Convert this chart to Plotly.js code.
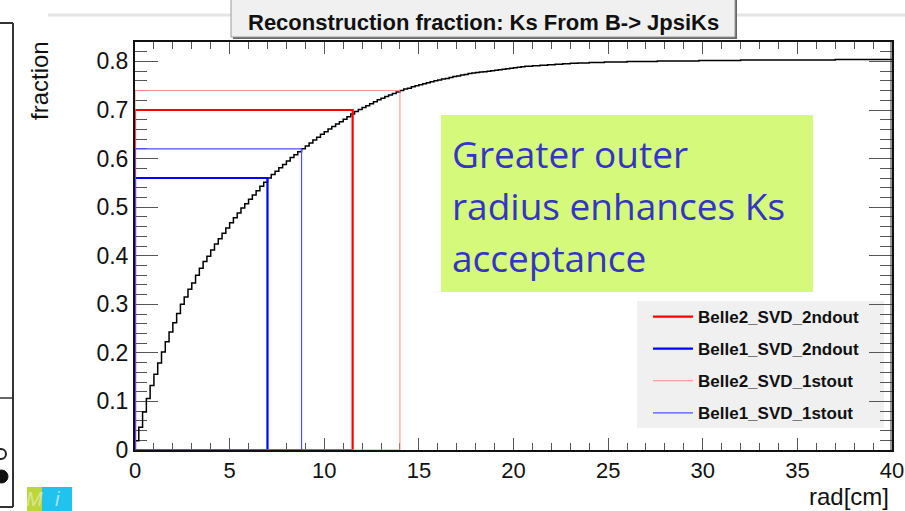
<!DOCTYPE html>
<html>
<head>
<meta charset="utf-8">
<script src="https://cdn.plot.ly/plotly-3.0.1.min.js"></script>
<style>html,body{margin:0;padding:0;background:#fff;}#chart{width:905px;height:511px;}</style>
</head>
<body>
<div id="chart"></div>
<script>
// ---- data ----
const radStart = 0;
const radStep = 0.2;           // histogram bin width [cm]
const fraction = [
  0.019,0.047,0.078,0.106,0.133,0.156,0.179,0.202,0.223,0.243,
  0.262,0.281,0.300,0.315,0.331,0.344,0.360,0.374,0.388,0.399,
  0.412,0.424,0.435,0.446,0.457,0.468,0.478,0.488,0.498,0.507,
  0.516,0.525,0.534,0.543,0.551,0.560,0.567,0.574,0.581,0.588,
  0.595,0.602,0.608,0.614,0.620,0.626,0.632,0.638,0.644,0.650,
  0.655,0.661,0.666,0.671,0.676,0.681,0.686,0.692,0.697,0.701,
  0.705,0.709,0.713,0.717,0.721,0.724,0.728,0.731,0.734,0.737,
  0.740,0.743,0.745,0.748,0.750,0.752,0.754,0.756,0.758,0.760,
  0.762,0.764,0.765,0.767,0.769,0.770,0.772,0.773,0.775,0.776,
  0.777,0.778,0.779,0.780,0.781,0.782,0.783,0.784,0.785,0.786,
  0.787,0.788,0.789,0.790,0.790,0.791,0.791,0.792,0.792,0.793,
  0.793,0.794,0.794,0.795,0.795,0.796,0.796,0.797,0.797,0.797,
  0.798,0.798,0.798,0.798,0.799,0.799,0.799,0.799,0.799,0.799,
  0.800,0.800,0.800,0.800,0.800,0.800,0.800,0.800,0.801,0.801,
  0.801,0.801,0.801,0.801,0.801,0.801,0.801,0.801,0.801,0.802,
  0.802,0.802,0.802,0.802,0.802,0.802,0.802,0.802,0.802,0.802,
  0.803,0.803,0.803,0.803,0.803,0.803,0.803,0.803,0.803,0.803,
  0.803,0.803,0.803,0.803,0.803,0.803,0.803,0.803,0.803,0.803,
  0.803,0.803,0.803,0.803,0.803,0.804,0.804,0.804,0.804,0.804,
  0.804,0.804,0.804,0.804,0.804,0.804,0.804,0.804,0.804,0.804
];
const configNames   = ['Belle2_SVD_2ndout','Belle1_SVD_2ndout','Belle2_SVD_1stout','Belle1_SVD_1stout'];
const outerRadius   = [11.5, 7.0, 14.0, 8.8];
const outerFraction = [0.70, 0.56, 0.74, 0.62];
const titleText = 'Reconstruction fraction: Ks From B-> JpsiKs';
const xTitle = 'rad[cm]';
const yTitle = 'fraction';
const noteLines = ['Greater outer', 'radius enhances Ks', 'acceptance'];

// ---- styles ----
const configColors = ['#ff0000', '#0000ff', '#ff8a8a', '#4f4fff'];
const configWidths = [2.2, 2.2, 1, 1.2];

const W = 905, H = 511;
const M = {l: 135, r: 13, t: 42, b: 61, pad: 0};
const pw = W - M.l - M.r, ph = H - M.t - M.b;
const px = v => (v - M.l) / pw;
const py = v => (H - M.b - v) / ph;

const histX = fraction.map((_, i) => radStart + i * radStep);
const histY = fraction.slice();
histX.push(radStart + fraction.length * radStep);
histY.push(fraction[fraction.length - 1]);

const traces = [{
  type: 'scatter', mode: 'lines', x: histX, y: histY,
  line: {shape: 'hv', color: '#000', width: 1.5},
  showlegend: false, hoverinfo: 'skip'
}];
configNames.forEach((n, k) => {
  traces.push({
    type: 'scatter', mode: 'lines', name: n, legendgroup: 'g' + k,
    x: [0, 0, outerRadius[k], outerRadius[k], 0],
    y: [0, outerFraction[k], outerFraction[k], 0, 0],
    line: {color: configColors[k], width: configWidths[k]}
  });
});

const F = 'Liberation Sans, Arial, sans-serif';
const shapes = [
  {type:'rect', xref:'paper', yref:'paper', x0:px(441), x1:px(813), y0:py(292), y1:py(115), fillcolor:'#d5f97a', line:{width:0}, layer:'below'},
  {type:'rect', xref:'paper', yref:'paper', x0:px(637), x1:px(884), y0:py(428), y1:py(301), fillcolor:'#f0f0f0', line:{width:0}, layer:'below'},
  {type:'line', xref:'paper', yref:'paper', x0:px(48), x1:px(905), y0:py(15), y1:py(15), line:{color:'#e4e4e4', width:3}},
  {type:'rect', xref:'paper', yref:'paper', x0:px(233), x1:px(737), y0:py(39), y1:py(-5), fillcolor:'#666', line:{width:0}},
  {type:'rect', xref:'paper', yref:'paper', x0:px(231), x1:px(735), y0:py(37), y1:py(-5), fillcolor:'#f0f0f0', line:{color:'#999', width:1}},
  {type:'line', xref:'paper', yref:'paper', x0:px(891), x1:px(891), y0:py(42), y1:py(450), line:{color:'#333', width:1}},
  {type:'line', xref:'paper', yref:'paper', x0:px(13), x1:px(13), y0:py(23), y1:py(507), line:{color:'#333', width:2}},
  {type:'line', xref:'paper', yref:'paper', x0:px(0), x1:px(13), y0:py(23), y1:py(23), line:{color:'#333', width:2}},
  {type:'line', xref:'paper', yref:'paper', x0:px(0), x1:px(13), y0:py(398), y1:py(398), line:{color:'#333', width:1.5}},
  {type:'line', xref:'paper', yref:'paper', x0:px(0), x1:px(13), y0:py(507), y1:py(507), line:{color:'#333', width:2}},
  {type:'circle', xref:'paper', yref:'paper', x0:px(-4), x1:px(6), y0:py(459), y1:py(449), fillcolor:'rgba(0,0,0,0)', line:{color:'#222', width:2}},
  {type:'circle', xref:'paper', yref:'paper', x0:px(-5), x1:px(8), y0:py(483), y1:py(470), fillcolor:'#111', line:{color:'#111', width:1}},
  {type:'rect', xref:'paper', yref:'paper', x0:px(27), x1:px(42), y0:py(511), y1:py(487), fillcolor:'#bcd63c', line:{width:0}},
  {type:'rect', xref:'paper', yref:'paper', x0:px(42), x1:px(72), y0:py(511), y1:py(487), fillcolor:'#22c2ee', line:{width:0}}
];

const annotations = [
  {text: titleText, xref:'paper', yref:'paper', x:px(483), y:py(23), xanchor:'center', yanchor:'middle', showarrow:false, font:{family:F, size:22, color:'#111', weight:'bold'}},
  {text: yTitle, xref:'paper', yref:'paper', x:px(39), y:py(81), xanchor:'center', yanchor:'middle', textangle:-90, showarrow:false, font:{family:F, size:24, color:'#111'}},
  {text: xTitle, xref:'paper', yref:'paper', x:px(891), y:py(496), xanchor:'right', yanchor:'middle', showarrow:false, font:{family:F, size:24, color:'#111'}},
  {text: '<i>M</i>', xref:'paper', yref:'paper', x:px(34), y:py(499), xanchor:'center', yanchor:'middle', showarrow:false, font:{family:F, size:20, color:'rgba(255,255,255,0.45)'}},
  {text: '<i>i</i>', xref:'paper', yref:'paper', x:px(57), y:py(499), xanchor:'center', yanchor:'middle', showarrow:false, font:{family:F, size:20, color:'rgba(255,255,255,0.6)'}}
];
noteLines.forEach((t, i) => {
  annotations.push({text: t, xref:'paper', yref:'paper', x:px(450), y:py(153 + 52 * i), xanchor:'left', yanchor:'middle', showarrow:false, font:{family:'Open Sans, Noto Sans, sans-serif', size:37, color:'#3434c6'}});
});

const axisCommon = {
  showline: true, linecolor: '#111', linewidth: 2, mirror: 'allticks',
  ticks: 'inside', tickwidth: 1, tickcolor: '#555',
  showgrid: false, zeroline: false, layer: 'below traces', fixedrange: true
};
const layout = {
  width: W, height: H, margin: M,
  paper_bgcolor: '#fff', plot_bgcolor: 'rgba(0,0,0,0)',
  showlegend: true,
  xaxis: Object.assign({}, axisCommon, {range: [0, 40], tick0: 0, dtick: 5, ticklen: 12,
    tickfont: {family: F, size: 22, color: '#111'},
    minor: {ticks: 'inside', ticklen: 7, dtick: 1, tickcolor: '#555', tickwidth: 1, showgrid: false}}),
  yaxis: Object.assign({}, axisCommon, {range: [0, 0.84], tick0: 0, dtick: 0.1, ticklen: 23,
    tickfont: {family: F, size: 23, color: '#111'},
    minor: {ticks: 'inside', ticklen: 12, dtick: 0.02, tickcolor: '#555', tickwidth: 1, showgrid: false}}),
  legend: {x: px(648), y: py(299), xanchor: 'left', yanchor: 'top', bgcolor: 'rgba(0,0,0,0)', borderwidth: 0,
    itemwidth: 40, tracegroupgap: 7, font: {family: F, size: 17, color: '#111', weight: 'bold'}},
  shapes: shapes, annotations: annotations
};
Plotly.newPlot('chart', traces, layout, {staticPlot: true, displayModeBar: false});
</script>
</body>
</html>
